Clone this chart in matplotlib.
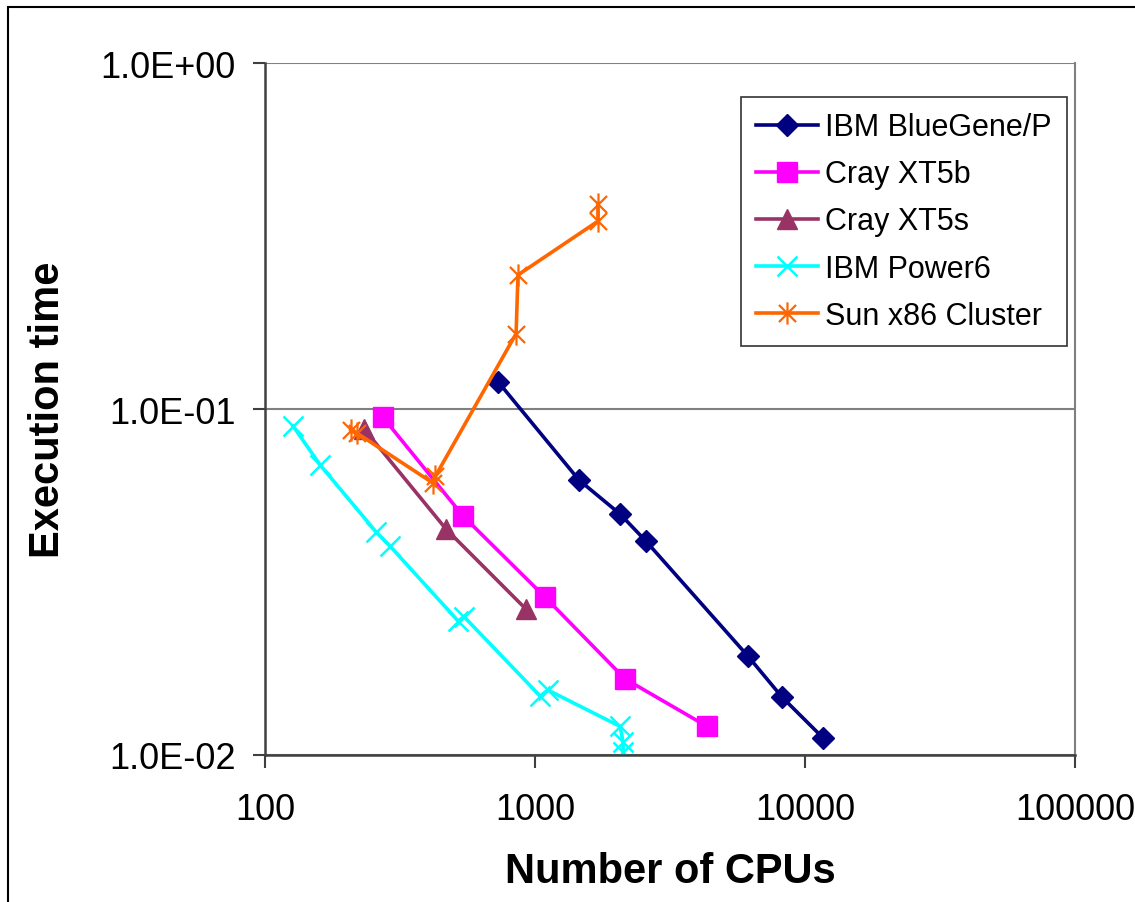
import matplotlib.pyplot as plt
import matplotlib.patches as patches
from matplotlib.path import Path
from matplotlib.ticker import FixedLocator, FixedFormatter, NullLocator

# Data (log-log)
bgp_cpus = [729, 1456, 2066, 2576, 6150, 8220, 11670]
bgp_time = [0.120, 0.0623, 0.0497, 0.0415, 0.0193, 0.0147, 0.0112]

xt5b_cpus = [273, 541, 1089, 2154, 4335]
xt5b_time = [0.0948, 0.0491, 0.0286, 0.0166, 0.0121]

xt5s_cpus = [233, 468, 926]
xt5s_time = [0.0875, 0.0450, 0.0264]

p6_cpus = [127, 160, 258, 290, 519, 546, 1045, 1117, 2066, 2120, 2120]
p6_time = [0.0893, 0.0689, 0.0441, 0.0402, 0.0244, 0.0251, 0.0148, 0.0154, 0.0121, 0.0109, 0.0102]

sun_cpus = [208, 220, 420, 428, 851, 865, 1710, 1710]
sun_time = [0.087, 0.085, 0.061, 0.064, 0.165, 0.244, 0.349, 0.39]

x_ticks = [100, 1000, 10000, 100000]
x_labels = ['100', '1000', '10000', '100000']
y_ticks = [0.01, 0.1, 1.0]
y_labels = ['1.0E-02', '1.0E-01', '1.0E+00']

plt.rcParams['font.family'] = ['Liberation Sans', 'DejaVu Sans']

# Excel style asterisk: X plus vertical bar
star = Path([(-1, -1), (1, 1), (-1, 1), (1, -1), (0, -1.3), (0, 1.3)],
            [Path.MOVETO, Path.LINETO, Path.MOVETO, Path.LINETO, Path.MOVETO, Path.LINETO])

fig = plt.figure(figsize=(11.35, 9.03), dpi=100)
ax = fig.add_axes([265 / 1135, 1 - 756 / 903, 810 / 1135, 692 / 903])

lw = 2.6
ax.plot(bgp_cpus, bgp_time, color='#000080', lw=lw, marker='D', ms=11,
        mfc='#000080', mec='#000080', label='IBM BlueGene/P')
ax.plot(xt5b_cpus, xt5b_time, color='#FF00FF', lw=lw, marker='s', ms=14,
        mfc='#FF00FF', mec='#FF00FF', label='Cray XT5b')
ax.plot(xt5s_cpus, xt5s_time, color='#993366', lw=lw, marker='^', ms=15,
        mfc='#993366', mec='#993366', label='Cray XT5s')
ax.plot(p6_cpus, p6_time, color='#00FFFF', lw=lw, marker='x', ms=15, mew=1.8,
        mec='#00FFFF', label='IBM Power6')
ax.plot(sun_cpus, sun_time, color='#FF6600', lw=lw, marker=star, ms=16, mew=1.6,
        mec='#FF6600', mfc='none', label='Sun x86 Cluster')

ax.set_xscale('log')
ax.set_yscale('log')
ax.set_xlim(100, 100000)
ax.set_ylim(0.01, 1.0)

ax.xaxis.set_major_locator(FixedLocator(x_ticks))
ax.xaxis.set_major_formatter(FixedFormatter(x_labels))
ax.xaxis.set_minor_locator(NullLocator())
ax.yaxis.set_major_locator(FixedLocator(y_ticks))
ax.yaxis.set_major_formatter(FixedFormatter(y_labels))
ax.yaxis.set_minor_locator(NullLocator())

ax.tick_params(axis='both', which='major', labelsize=26, length=9, width=1.5,
               direction='out', color='#404040')
ax.tick_params(axis='x', pad=18)
ax.tick_params(axis='y', pad=12)

ax.grid(axis='y', color='#808080', lw=1.5)
ax.set_axisbelow(True)
for side in ['left', 'bottom']:
    ax.spines[side].set_color('#404040')
    ax.spines[side].set_linewidth(1.8)
ax.spines['right'].set_color('#808080')
ax.spines['right'].set_linewidth(1.5)
ax.spines['top'].set_visible(False)

ax.set_xlabel('Number of CPUs', fontsize=30, fontweight='bold')
ax.set_ylabel('Execution time', fontsize=30, fontweight='bold')
ax.xaxis.set_label_coords(0.5, -0.139)
ax.yaxis.set_label_coords(-0.243, 0.5)

leg = ax.legend(loc='upper right', bbox_to_anchor=(1067 / 1135, 1 - 98 / 903),
                bbox_transform=fig.transFigure, fontsize=22, frameon=True,
                fancybox=False, edgecolor='black', handlelength=2.0,
                labelspacing=0.56, borderpad=0.5, handletextpad=0.25,
                borderaxespad=0)
leg.get_frame().set_linewidth(1.2)

# outer chart border
fig.patches.append(patches.Rectangle((8 / 1135, -0.05), 1.2, 1 - 8 / 903 + 0.05,
                                     transform=fig.transFigure, fill=False,
                                     edgecolor='black', lw=1.5))

fig.savefig('out.png', dpi=100)
